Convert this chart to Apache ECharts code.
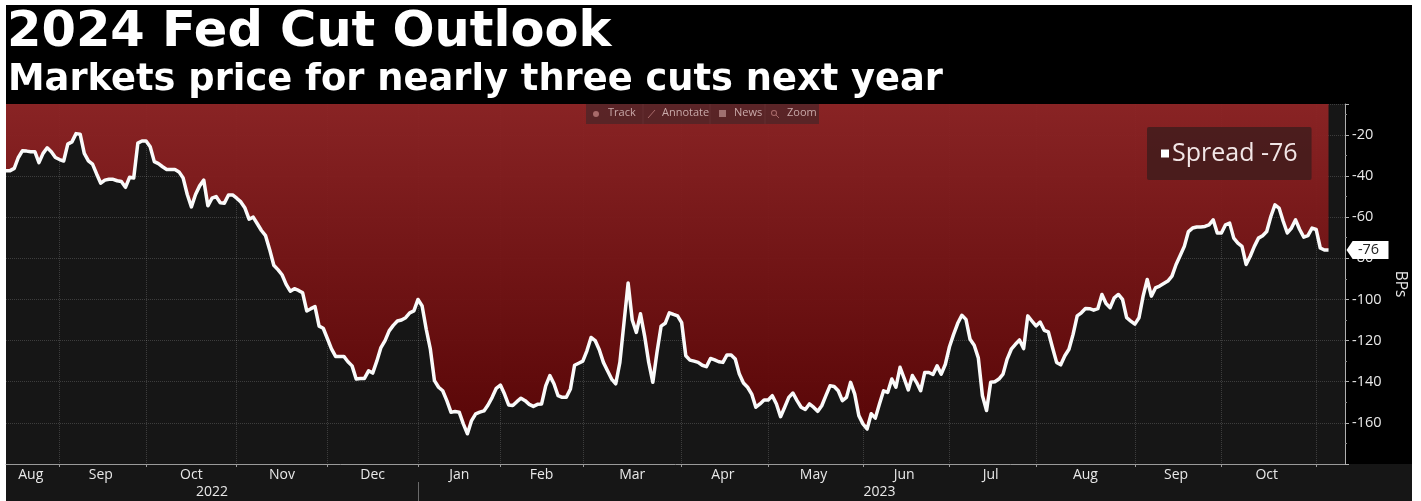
<!DOCTYPE html>
<html>
<head>
<meta charset="utf-8">
<style>html,body{margin:0;padding:0;background:#fff}#chart{width:1421px;height:501px}</style>
<script src="https://cdn.jsdelivr.net/npm/echarts@6/dist/echarts.min.js"></script>
</head>
<body>
<div id="chart"></div>
<script>
const titleText = '2024 Fed Cut Outlook';
const subtitleText = 'Markets price for nearly three cuts next year';
const seriesLabel = 'Spread';
const yTicks = [-20, -40, -60, -80, -100, -120, -140, -160];
const toolbarItems = ['Track', 'Annotate', 'News', 'Zoom'];

// Month names and the trading session on which each later month opens.
const monthLabels = ['Aug','Sep','Oct','Nov','Dec','Jan','Feb','Mar','Apr','May','Jun','Jul','Aug','Sep','Oct'];
const monthTicks = [13,34,56,78,100,120,140,164,185,208,229,250,274,295,318];
const yearLabels = ['2022', '2023'];
const yearBreak = 100;

// Daily spread in basis points, one value per trading session from mid-Aug 2022.
const spread = [
  -37.4,-37.4,-36.3,-31,-27.7,-27.9,-28.2,-28.2,-33.5,-29,
  -26.3,-28.2,-31,-32,-32.7,-24.5,-23.4,-19.4,-19.7,-29,
  -32.6,-34.2,-39,-43.5,-42,-41.6,-41.6,-42.3,-42.7,-45.5,
  -40.6,-41,-24,-23,-23,-25.8,-33,-34,-35.5,-36.8,
  -36.8,-36.8,-38,-41,-49,-55,-49,-44.8,-42,-54.5,
  -50.8,-50,-53,-53.2,-49.2,-49.2,-50.8,-52.6,-55.6,-61,
  -60,-63.2,-66.5,-69,-75.8,-83.4,-85.5,-88,-92.7,-96,
  -94.8,-95.6,-96.8,-105.6,-104.5,-103.5,-113,-114,-119,-124,
  -127.7,-127.7,-127.7,-130.3,-132.3,-138.7,-138.4,-138.4,-134.7,-135.8,
  -130,-123.4,-120,-115.3,-112.6,-110.5,-110,-108.9,-106.5,-105.6,
  -100,-103.2,-114.5,-124.2,-139.5,-142.7,-144.4,-149.2,-154.8,-154.5,
  -154.8,-160.5,-165.3,-158.9,-155.6,-154.8,-154.2,-151.3,-147.6,-143.2,
  -141.6,-146,-151.3,-151.6,-149.7,-148,-149.2,-151,-152,-151,
  -150.8,-142,-137,-141,-146.8,-147.6,-147.6,-143.5,-132,-131,
  -130,-125,-118.5,-120,-124.5,-130.6,-134.7,-138.7,-141,-130.6,
  -111.3,-92,-110,-116,-107,-117.7,-130.6,-140.3,-125.8,-113,
  -111.6,-106.5,-107.3,-108,-111.3,-127.4,-129.5,-130,-130.6,-132,
  -132.7,-128.7,-129.4,-130.3,-130.6,-127,-127,-129,-136.3,-140.6,
  -142.7,-146,-152.4,-150.8,-148.9,-148.9,-146.8,-150.8,-157,-152.4,
  -147.6,-145.5,-149.2,-152.4,-153.5,-150.8,-152.4,-154.4,-151.7,-146.8,
  -142,-142.3,-144.4,-149.2,-147.6,-140.3,-146,-156.5,-160.5,-163,
  -155.6,-157.7,-150.8,-144.4,-145.2,-138.7,-142.7,-133,-138.4,-144,
  -137,-140.3,-144.4,-135.5,-135.5,-136.5,-132.3,-136.3,-131.5,-123,
  -117,-111.6,-107.7,-109.7,-119.4,-122.3,-128.4,-146.8,-154,-140.3,
  -140,-138.7,-136.3,-129,-124.2,-121.8,-119.7,-123.9,-108,-110.5,
  -112.9,-111,-115,-115.8,-123.4,-130.6,-131.8,-127.4,-124.2,-117,
  -108,-106.5,-104.4,-104.5,-105.2,-104.5,-97.6,-102,-104,-99.2,
  -97.6,-100,-108.9,-110.5,-112,-108.9,-98.4,-90.3,-98.4,-94.4,
  -93.5,-92.3,-91.1,-88.7,-83,-78.7,-74.2,-67,-65.3,-64.8,
  -64.8,-64.5,-63.7,-61.3,-67.7,-67.7,-63.7,-62.9,-70.2,-72.6,
  -74.2,-83,-79,-74.2,-70.2,-69,-67,-59.7,-54,-55.6,
  -62,-67.7,-65.3,-61.3,-66,-69.7,-69,-65.3,-66,-75,-76,-76
];

// The session axis runs a little past the last value to leave room at the right edge.
const sessionCount = 326;
const sessions = Array.from({ length: sessionCount }, (_, i) => String(i));

// Month names sit midway between two month ticks; the open final month gets none.
const monthEdges = [0, ...monthTicks];
const monthLabelAt = new Map(monthLabels.map((name, k) =>
  [Math.floor((monthEdges[k] + monthEdges[k + 1]) / 2), name]));
const yearLabelAt = new Map([
  [Math.floor(yearBreak / 2), yearLabels[0]],
  [Math.floor((yearBreak + sessionCount - 1) / 2), yearLabels[1]]
]);

const lastValue = spread[spread.length - 1];
const legendName = seriesLabel + ' ' + Math.round(lastValue);
const UI_FONT = '"Open Sans", "Noto Sans", sans-serif';
const axisText = '#e8e8e8';
const ruleColor = 'rgba(255,255,255,0.17)';

const chart = echarts.init(document.getElementById('chart'), null, { renderer: 'canvas' });

const toolbarX = [608, 662, 734, 787];
const toolbarDiv = [643, 710, 765];
const toolbarGraphics = [
  { type: 'rect', silent: true, z: 5, shape: { x: 586, y: 104, width: 233, height: 20 },
    style: { fill: 'rgba(72,38,40,0.72)' } },
  ...toolbarDiv.map(x => ({ type: 'line', silent: true, z: 6, shape: { x1: x, y1: 104, x2: x, y2: 124 },
    style: { stroke: 'rgba(120,70,70,0.35)', lineWidth: 1 } })),
  ...toolbarItems.map((t, i) => ({ type: 'text', silent: true, z: 6, x: toolbarX[i], y: 107,
    style: { text: t, fill: '#c9a9a9', font: '11px ' + UI_FONT } })),
  { type: 'circle', silent: true, z: 6, shape: { cx: 596, cy: 114, r: 3 }, style: { fill: '#a86a6a' } },
  { type: 'line', silent: true, z: 6, shape: { x1: 648, y1: 118, x2: 655, y2: 110 }, style: { stroke: '#a86a6a', lineWidth: 1 } },
  { type: 'rect', silent: true, z: 6, shape: { x: 719, y: 110, width: 7, height: 7 }, style: { fill: '#a07070' } },
  { type: 'ring', silent: true, z: 6, shape: { cx: 774, cy: 113, r: 3, r0: 2 }, style: { fill: '#a86a6a' } },
  { type: 'line', silent: true, z: 6, shape: { x1: 776, y1: 115, x2: 779, y2: 118 }, style: { stroke: '#a86a6a', lineWidth: 1 } }
];

chart.setOption({
  animation: false,
  backgroundColor: 'transparent',
  graphic: { elements: [
    { type: 'rect', silent: true, z: -10, shape: { x: 6, y: 5, width: 1406, height: 496 }, style: { fill: '#000' } },
    { type: 'rect', silent: true, z: -9, shape: { x: 6, y: 464, width: 1406, height: 37 }, style: { fill: '#161616' } },
    ...toolbarGraphics
  ] },
  title: [
    { text: titleText, left: 7, top: 8, padding: 0,
      textStyle: { color: '#fff', fontFamily: 'DejaVu Sans', fontWeight: 'bold', fontSize: 49.5 } },
    { text: subtitleText, left: 8, top: 62, padding: 0,
      textStyle: { color: '#fff', fontFamily: 'DejaVu Sans', fontWeight: 'bold', fontSize: 36.8 } }
  ],
  legend: {
    left: 1147, top: 127, padding: [14, 14, 14, 14],
    backgroundColor: 'rgba(62,28,28,0.82)', borderRadius: 2,
    selectedMode: false, icon: 'rect', itemWidth: 8, itemHeight: 8,
    data: [{ name: legendName, itemStyle: { color: '#fff' } }],
    textStyle: { color: '#f2e6e6', fontFamily: UI_FONT, fontSize: 25, padding: [3, 0, 0, -2] }
  },
  grid: { left: 6, right: 76, top: 104, bottom: 37, show: true, backgroundColor: '#161616', borderWidth: 0 },
  xAxis: [
    {
      type: 'category', data: sessions, boundaryGap: false,
      axisLine: { lineStyle: { color: '#9a9a9a', width: 1 } },
      axisTick: { length: 3, lineStyle: { color: '#9a9a9a' },
        interval: i => monthTicks.includes(i) },
      splitLine: { show: true, lineStyle: { color: ruleColor, width: 1, type: 'dotted' },
        interval: i => monthTicks.includes(i) },
      axisLabel: { color: axisText, fontFamily: UI_FONT, fontSize: 14, margin: 4,
        interval: i => monthLabelAt.has(i), formatter: (v, i) => monthLabelAt.get(i) || '' }
    },
    {
      type: 'category', data: sessions, boundaryGap: false, position: 'bottom', offset: 18,
      axisLine: { show: false },
      axisTick: { length: 19, lineStyle: { color: '#6a6a6a' }, interval: i => i === yearBreak },
      axisLabel: { color: axisText, fontFamily: UI_FONT, fontSize: 14, margin: 3,
        interval: i => yearLabelAt.has(i), formatter: (v, i) => yearLabelAt.get(i) || '' }
    }
  ],
  yAxis: {
    type: 'value', position: 'right', min: -180, max: -5, interval: 20,
    axisLine: { show: true, lineStyle: { color: '#b0b0b0', width: 1 } },
    axisTick: { show: true, length: 4, lineStyle: { color: '#b0b0b0' } },
    minorTick: { show: true, splitNumber: 2, length: 2, lineStyle: { color: '#8a8a8a' } },
    splitLine: { show: true, lineStyle: { color: ruleColor, width: 1, type: 'dotted' } },
    axisLabel: { color: axisText, fontFamily: UI_FONT, fontSize: 14.5, margin: 7,
      formatter: v => (yTicks.includes(v) ? String(v) : '') },
    name: 'BPs', nameLocation: 'middle', nameRotate: -90, nameGap: 46,
    nameTextStyle: { color: axisText, fontFamily: UI_FONT, fontSize: 15.5 }
  },
  series: [
    {
      type: 'line', name: 'Spread fill', data: spread, z: 1, silent: true,
      symbol: 'none', lineStyle: { width: 0 },
      // Slightly translucent so the rules stay just visible through the red.
      areaStyle: { origin: 'end', opacity: 0.95,
        color: new echarts.graphic.LinearGradient(0, 0, 0, 1, [
          { offset: 0, color: '#8f2425' },
          { offset: 1, color: '#5c0506' }
        ]) }
    },
    {
      type: 'line', name: legendName, data: spread, z: 3,
      symbol: 'none', lineStyle: { color: '#fafafa', width: 3.5, join: 'round' },
      itemStyle: { color: '#fff' },
      markPoint: {
        silent: true, animation: false,
        data: [{ coord: [spread.length - 1, lastValue], value: lastValue }],
        symbol: 'path://M0 9 L7 0 L48 0 L48 18 L7 18 Z',
        symbolSize: [42, 18], symbolOffset: [39, 0],
        itemStyle: { color: '#fff' },
        label: { show: true, position: 'inside', offset: [1, 0], color: '#222',
          fontFamily: UI_FONT, fontSize: 14.5, formatter: p => String(Math.round(p.value)) }
      }
    }
  ]
});
</script>
</body>
</html>
